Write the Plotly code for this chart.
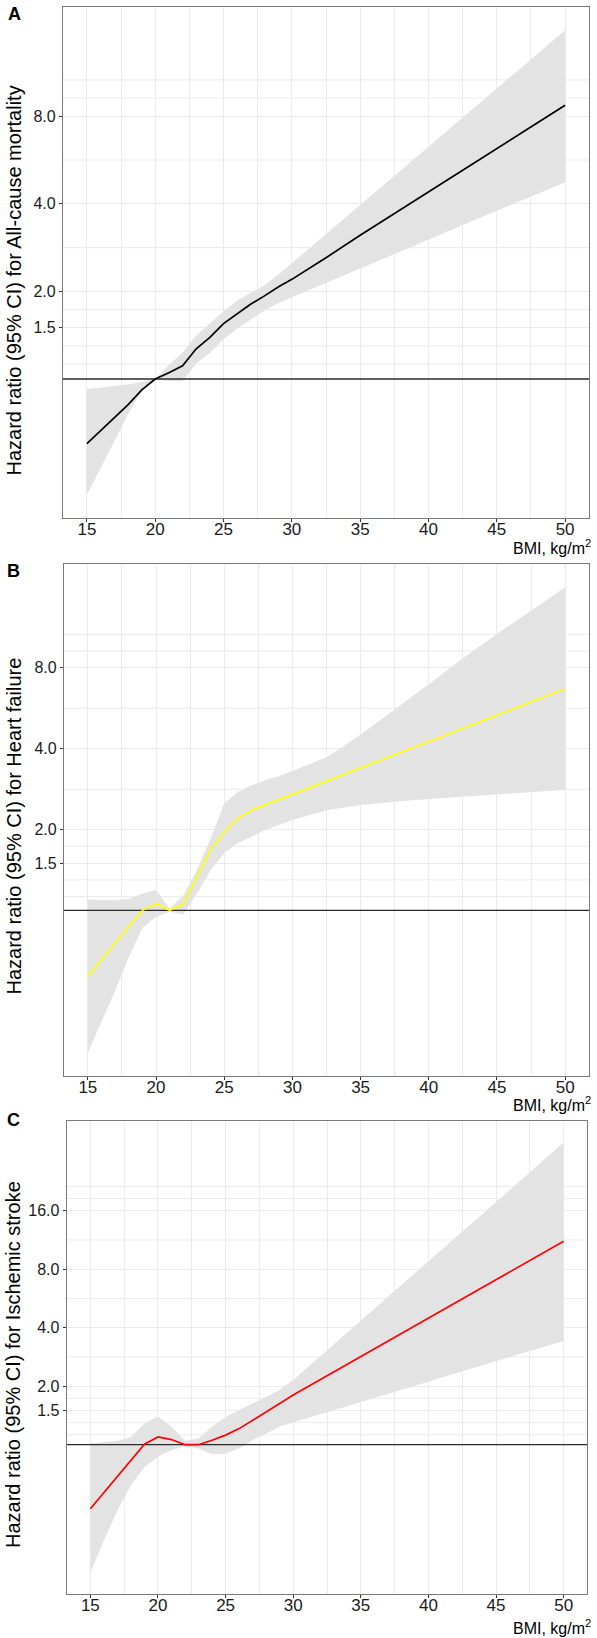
import math
import plotly.graph_objects as go

# ---------------- data ----------------
bmi = [15, 16, 17, 18, 19, 20, 21, 22, 23, 24, 25, 26, 27, 28, 29, 30,
       32.5, 35, 37.5, 40, 42.5, 45, 47.5, 50]

hr_all = [0.60, 0.665, 0.735, 0.815, 0.915, 1.00, 1.05, 1.11, 1.27, 1.39, 1.55, 1.68, 1.81, 1.93, 2.07, 2.20,
          2.61, 3.12, 3.70, 4.40, 5.23, 6.20, 7.37, 8.73]
lo_all = [0.40, 0.494, 0.61, 0.755, 0.909, 1.00, 0.984, 0.98, 1.13, 1.23, 1.37, 1.49, 1.60, 1.72, 1.82, 1.91,
          2.14, 2.40, 2.69, 3.01, 3.38, 3.78, 4.24, 4.74]
hi_all = [0.926, 0.933, 0.946, 0.958, 0.977, 1.00, 1.12, 1.23, 1.41, 1.55, 1.71, 1.86, 1.97, 2.10, 2.28, 2.50,
          3.15, 3.96, 4.99, 6.28, 7.90, 9.95, 12.5, 15.8]

hr_hf = [0.568, 0.656, 0.757, 0.871, 1.00, 1.059, 1.00, 1.053, 1.33, 1.68, 1.95, 2.20, 2.36, 2.47, 2.58, 2.69,
         3.02, 3.39, 3.80, 4.26, 4.78, 5.35, 5.99, 6.69]
lo_hf = [0.295, 0.382, 0.502, 0.669, 0.862, 0.944, 0.99, 0.966, 1.154, 1.41, 1.63, 1.78, 1.88, 1.99, 2.08, 2.17,
         2.36, 2.47, 2.54, 2.60, 2.66, 2.71, 2.76, 2.81]
hi_hf = [1.097, 1.09, 1.09, 1.105, 1.154, 1.194, 1.014, 1.138, 1.41, 1.85, 2.50, 2.76, 2.92, 3.05, 3.16, 3.30,
         3.72, 4.51, 5.59, 6.95, 8.68, 10.7, 13.06, 15.96]

hr_is = [0.468, 0.567, 0.685, 0.83, 1.006, 1.097, 1.063, 1.00, 1.00, 1.055, 1.12, 1.21, 1.34, 1.48, 1.63, 1.80,
         2.26, 2.84, 3.57, 4.48, 5.63, 7.07, 8.88, 11.15]
lo_is = [0.22, 0.321, 0.459, 0.618, 0.769, 0.866, 0.937, 0.982, 0.955, 0.893, 0.90, 0.955, 1.055, 1.14, 1.24, 1.30,
         1.47, 1.66, 1.87, 2.11, 2.39, 2.69, 3.04, 3.42]
hi_is = [1.014, 1.034, 1.047, 1.097, 1.286, 1.40, 1.236, 1.047, 1.076, 1.236, 1.39, 1.51, 1.63, 1.77, 1.91, 2.15,
         3.06, 4.35, 6.20, 8.80, 12.6, 17.9, 25.4, 35.9]

x_breaks = [15, 20, 25, 30, 35, 40, 45, 50]
y_breaks_ab = [1.5, 2, 4, 8]
y_breaks_c = [1.5, 2, 4, 8, 16]

outcomes = ["All-cause mortality", "Heart failure", "Ischemic stroke"]
letters = ["A", "B", "C"]

# ---------------- styling / layout ----------------
W, H = 597, 1638
FONT = "Liberation Sans, Arial, Helvetica, sans-serif"
GRID = "#EBEBEB"
RIBBON = "#E3E3E3"
AXLINE = "#7A7A7A"

panels = [
    dict(hr=hr_all, lo=lo_all, hi=hi_all, color="#000000", breaks=y_breaks_ab,
         box=(63, 589, 7, 518), title_y=280.5, letter_xy=(14, 14), bmi_y=547),
    dict(hr=hr_hf, lo=lo_hf, hi=hi_hf, color="#FFFF00", breaks=y_breaks_ab,
         box=(64, 589, 564, 1076), title_y=826.5, letter_xy=(13.5, 571), bmi_y=1104),
    dict(hr=hr_is, lo=lo_is, hi=hi_is, color="#FF0000", breaks=y_breaks_c,
         box=(66.7, 587.3, 1121, 1594), title_y=1365, letter_xy=(13, 1120), bmi_y=1627),
]

xmin, xmax = min(bmi), max(bmi)
xpad = 0.05 * (xmax - xmin)
xr = [xmin - xpad, xmax + xpad]
x_minor = [(a + b) / 2 for a, b in zip(x_breaks[:-1], x_breaks[1:])]

fig = go.Figure()
annotations = []

for i, p in enumerate(panels):
    sfx = "" if i == 0 else str(i + 1)
    xa, ya = "x" + sfx, "y" + sfx
    # y limits in log2 space with 5% expansion
    l0 = math.log2(min(p["lo"]))
    l1 = math.log2(max(p["hi"]))
    pad = 0.05 * (l1 - l0)
    lim0, lim1 = l0 - pad, l1 + pad

    # ggplot-style minor grid positions
    t = [math.log2(b) for b in p["breaks"]]
    bd = t[1] - t[0]
    ext = list(t)
    if lim0 < ext[0]:
        ext = [ext[0] - bd] + ext
    if lim1 > ext[-1]:
        ext = ext + [ext[-1] + bd]
    mins = [(a + b) / 2 for a, b in zip(ext[:-1], ext[1:])]
    extra = [e for e in ext if all(abs(e - tt) > 1e-9 for tt in t)]
    grid_vals = [2 ** v for v in sorted(mins + extra) if lim0 < v < lim1]

    gx, gy = [], []
    for v in grid_vals:
        gx += [xr[0], xr[1], None]
        gy += [v, v, None]
    fig.add_trace(go.Scatter(x=gx, y=gy, mode="lines", line=dict(color=GRID, width=1),
                             hoverinfo="skip", showlegend=False, xaxis=xa, yaxis=ya))

    # confidence ribbon
    fig.add_trace(go.Scatter(x=bmi + bmi[::-1], y=p["hi"] + p["lo"][::-1], mode="lines",
                             fill="toself", fillcolor=RIBBON, line=dict(width=0),
                             hoverinfo="skip", showlegend=False, xaxis=xa, yaxis=ya))
    # reference line HR = 1
    fig.add_trace(go.Scatter(x=xr, y=[1, 1], mode="lines", line=dict(color="#2B2B2B", width=1.3),
                             hoverinfo="skip", showlegend=False, xaxis=xa, yaxis=ya))
    # HR curve
    fig.add_trace(go.Scatter(x=bmi, y=p["hr"], mode="lines", line=dict(color=p["color"], width=1.7),
                             showlegend=False, xaxis=xa, yaxis=ya))

    x0, x1, y0, y1 = p["box"]
    fig.update_layout(**{
        "xaxis" + sfx: dict(
            domain=[x0 / W, x1 / W], anchor=ya, range=xr,
            tickmode="array", tickvals=x_breaks, ticktext=[str(v) for v in x_breaks],
            ticks="outside", ticklen=3, tickcolor="#333333", ticklabelstandoff=-8,
            showgrid=True, gridcolor=GRID, gridwidth=1,
            minor=dict(tickmode="array", tickvals=x_minor, showgrid=True, gridcolor=GRID, gridwidth=1, ticks=""),
            showline=True, mirror=True, linecolor=AXLINE, linewidth=1.2,
            zeroline=False, tickfont=dict(family=FONT, size=17, color="#1A1A1A"),
            automargin=False,
        ),
        "yaxis" + sfx: dict(
            domain=[1 - y1 / H, 1 - y0 / H], anchor=xa, type="log",
            range=[lim0 * math.log10(2), lim1 * math.log10(2)],
            tickmode="array", tickvals=p["breaks"], ticktext=[f"{b:.1f}" for b in p["breaks"]],
            ticks="outside", ticklen=3, tickcolor="#333333",
            showgrid=True, gridcolor=GRID, gridwidth=1,
            showline=True, mirror=True, linecolor=AXLINE, linewidth=1.2,
            zeroline=False, tickfont=dict(family=FONT, size=16, color="#1A1A1A"),
            automargin=False,
        ),
    })

    annotations.append(dict(text=f"Hazard ratio (95% CI) for {outcomes[i]}", textangle=-90,
                            xref="paper", yref="paper", x=13 / W, y=1 - p["title_y"] / H,
                            xanchor="center", yanchor="middle", showarrow=False,
                            font=dict(family=FONT, size=20, color="#000000")))
    lx, ly = p["letter_xy"]
    annotations.append(dict(text=f"<b>{letters[i]}</b>", xref="paper", yref="paper",
                            x=lx / W, y=1 - ly / H, xanchor="center", yanchor="middle",
                            showarrow=False, font=dict(family=FONT, size=18, color="#000000")))
    annotations.append(dict(text="BMI, kg/m<sup>2</sup>", xref="paper", yref="paper",
                            x=593 / W, y=1 - p["bmi_y"] / H, xanchor="right", yanchor="middle",
                            showarrow=False, font=dict(family=FONT, size=16, color="#000000")))

fig.update_layout(
    width=W, height=H, autosize=False,
    margin=dict(l=0, r=0, t=0, b=0, pad=0),
    paper_bgcolor="white", plot_bgcolor="white",
    showlegend=False, annotations=annotations,
    font=dict(family=FONT, color="#000000"),
)

fig.write_html("out.html", config={"displayModeBar": False},
               post_script="document.body.style.margin='0';")
